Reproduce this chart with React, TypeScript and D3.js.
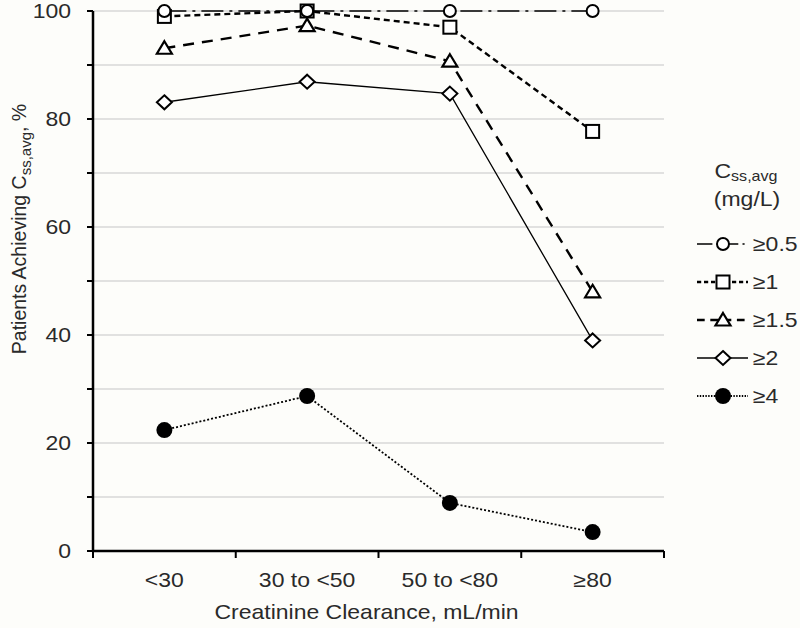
import { useEffect, useRef } from "react";
import * as d3 from "d3";

const WIDTH = 800;
const HEIGHT = 628;
const MARGIN = { top: 11, right: 136, bottom: 77, left: 93 };
const FONT = "'Liberation Sans', Arial, sans-serif";
const STRETCH = 1.15; // the original text is a little wider than Arial

const categories = ["<30", "30 to <50", "50 to <80", "≥80"];
const seriesNames = ["≥0.5", "≥1", "≥1.5", "≥2", "≥4"];
const valuesHalf = [100, 100, 100, 100];
const valuesOne = [99, 100, 97, 77.7];
const valuesOneHalf = [93.1, 97.3, 90.7, 48];
const valuesTwo = [83.1, 86.9, 84.7, 39];
const valuesFour = [22.4, 28.7, 8.9, 3.5];
const yTicks = [0, 10, 20, 30, 40, 50, 60, 70, 80, 90, 100];
const yLabels = [0, 20, 40, 60, 80, 100];

type Marker = "circle" | "square" | "triangle" | "diamond" | "dot";

const series: { name: string; values: number[]; marker: Marker; dash: string; width: number }[] = [
  { name: seriesNames[0], values: valuesHalf, marker: "circle", dash: "22 6 3 6", width: 1.6 },
  { name: seriesNames[1], values: valuesOne, marker: "square", dash: "6 4", width: 2.4 },
  { name: seriesNames[2], values: valuesOneHalf, marker: "triangle", dash: "11 8", width: 2.4 },
  { name: seriesNames[3], values: valuesTwo, marker: "diamond", dash: "", width: 1.3 },
  { name: seriesNames[4], values: valuesFour, marker: "dot", dash: "2 2", width: 1.8 },
];

// draw a marker at (0,0) into a selection
const drawMarker = (g: any, marker: Marker) => {
  if (marker === "circle") {
    g.append("circle").attr("r", 6).attr("fill", "#fff").attr("stroke", "#000").attr("stroke-width", 2);
  } else if (marker === "square") {
    g.append("rect").attr("x", -6.5).attr("y", -6.5).attr("width", 13).attr("height", 13)
      .attr("fill", "#fff").attr("stroke", "#000").attr("stroke-width", 2);
  } else if (marker === "triangle") {
    g.append("path").attr("d", "M0,-7L7.5,5.5L-7.5,5.5Z")
      .attr("fill", "#fff").attr("stroke", "#000").attr("stroke-width", 2.2);
  } else if (marker === "diamond") {
    g.append("path").attr("d", "M0,-7L7.5,0L0,7L-7.5,0Z")
      .attr("fill", "#fff").attr("stroke", "#000").attr("stroke-width", 2);
  } else {
    g.append("circle").attr("r", 8).attr("fill", "#000");
  }
};

// horizontal text, slightly widened
const addText = (parent: any, x: number, y: number, size: number, anchor = "start") =>
  parent
    .append("text")
    .attr("transform", `translate(${x},${y}) scale(${STRETCH},1)`)
    .attr("text-anchor", anchor)
    .attr("font-family", FONT)
    .attr("font-size", size)
    .attr("fill", "#2a2a2a");

export default function App() {
  const ref = useRef<SVGSVGElement>(null);

  useEffect(() => {
    const svg = d3.select(ref.current);
    svg.selectAll("*").remove();

    const boundsWidth = WIDTH - MARGIN.left - MARGIN.right;
    const boundsHeight = HEIGHT - MARGIN.top - MARGIN.bottom;

    const xScale = d3.scaleBand().domain(categories).range([0, boundsWidth]);
    const yScale = d3.scaleLinear().domain([0, 100]).range([boundsHeight, 0]);
    const cx = (c: string) => (xScale(c) ?? 0) + xScale.bandwidth() / 2;

    svg.append("rect").attr("width", WIDTH).attr("height", HEIGHT).attr("fill", "#fdfdfa");

    const g = svg.append("g").attr("transform", `translate(${MARGIN.left},${MARGIN.top})`);

    // gridlines
    g.selectAll(".grid")
      .data(yTicks.filter((t) => t > 0))
      .join("line")
      .attr("x1", 0)
      .attr("x2", boundsWidth)
      .attr("y1", (d) => yScale(d))
      .attr("y2", (d) => yScale(d))
      .attr("stroke", "#c6c6c6")
      .attr("stroke-width", 1.2);

    // y axis
    const yAxis = g.append("g");
    yAxis.append("line").attr("x1", 0).attr("x2", 0).attr("y1", 0).attr("y2", boundsHeight)
      .attr("stroke", "#000").attr("stroke-width", 2.5);
    yAxis.selectAll(".tick")
      .data(yTicks)
      .join("line")
      .attr("x1", -6).attr("x2", 0)
      .attr("y1", (d) => yScale(d)).attr("y2", (d) => yScale(d))
      .attr("stroke", "#000").attr("stroke-width", 2);
    yLabels.forEach((v) => {
      addText(yAxis, -22, yScale(v), 20, "end").attr("dy", "0.36em").text(v);
    });

    // x axis
    const xAxis = g.append("g").attr("transform", `translate(0,${boundsHeight})`);
    xAxis.append("line").attr("x1", 0).attr("x2", boundsWidth)
      .attr("stroke", "#000").attr("stroke-width", 2.5);
    const bounds = categories.map((c) => xScale(c) ?? 0).concat([boundsWidth]);
    xAxis.selectAll(".tick")
      .data(bounds)
      .join("line")
      .attr("x1", (d) => d).attr("x2", (d) => d)
      .attr("y1", 0).attr("y2", 7)
      .attr("stroke", "#000").attr("stroke-width", 2);
    categories.forEach((c) => {
      addText(xAxis, cx(c), 36, 20, "middle").text(c);
    });

    // axis titles
    addText(svg, MARGIN.left + boundsWidth / 2 - 12, 619, 20, "middle").text("Creatinine Clearance, mL/min");

    const yt = svg.append("text")
      .attr("transform", `translate(26,229) rotate(-90)`)
      .attr("text-anchor", "middle")
      .attr("font-family", FONT)
      .attr("font-size", 19.5)
      .attr("fill", "#2a2a2a");
    yt.append("tspan").text("Patients Achieving C");
    yt.append("tspan").attr("font-size", 15).attr("dy", 5).text("ss,avg");
    yt.append("tspan").attr("dy", -5).text(", %");

    // lines and markers
    const line = d3.line<number>()
      .x((_, i) => cx(categories[i]))
      .y((d) => yScale(d));

    series.forEach((s) => {
      g.append("path")
        .attr("d", line(s.values))
        .attr("fill", "none")
        .attr("stroke", "#000")
        .attr("stroke-width", s.width)
        .attr("stroke-dasharray", s.dash || null);
    });
    [...series].reverse().forEach((s) => {
      s.values.forEach((v, i) => {
        const m = g.append("g").attr("transform", `translate(${cx(categories[i])},${yScale(v)})`);
        drawMarker(m, s.marker);
      });
    });

    // legend
    const lg = svg.append("g").attr("transform", "translate(697,0)");
    const lt = addText(lg, 49, 178, 20, "middle");
    lt.append("tspan").text("C");
    lt.append("tspan").attr("font-size", 14).attr("dy", 3).text("ss,avg");
    addText(lg, 50, 206, 20, "middle").text("(mg/L)");

    const rowScale = d3.scalePoint().domain(seriesNames).range([244, 396]);
    series.forEach((s) => {
      const y = rowScale(s.name) ?? 0;
      const row = lg.append("g").attr("transform", `translate(0,${y})`);
      row.append("line").attr("x1", 0).attr("x2", 51)
        .attr("stroke", "#000").attr("stroke-width", s.width)
        .attr("stroke-dasharray", s.dash ? s.dash.split(" ").map((d) => +d * 0.7).join(" ") : null);
      const m = row.append("g").attr("transform", "translate(26,0)");
      drawMarker(m, s.marker);
      addText(row, 56, 0, 20).attr("dy", "0.36em").text(s.name);
    });
  }, []);

  return (
    <svg
      ref={ref}
      width={WIDTH}
      height={HEIGHT}
      style={{ position: "absolute", left: 0, top: 0 }}
    />
  );
}
